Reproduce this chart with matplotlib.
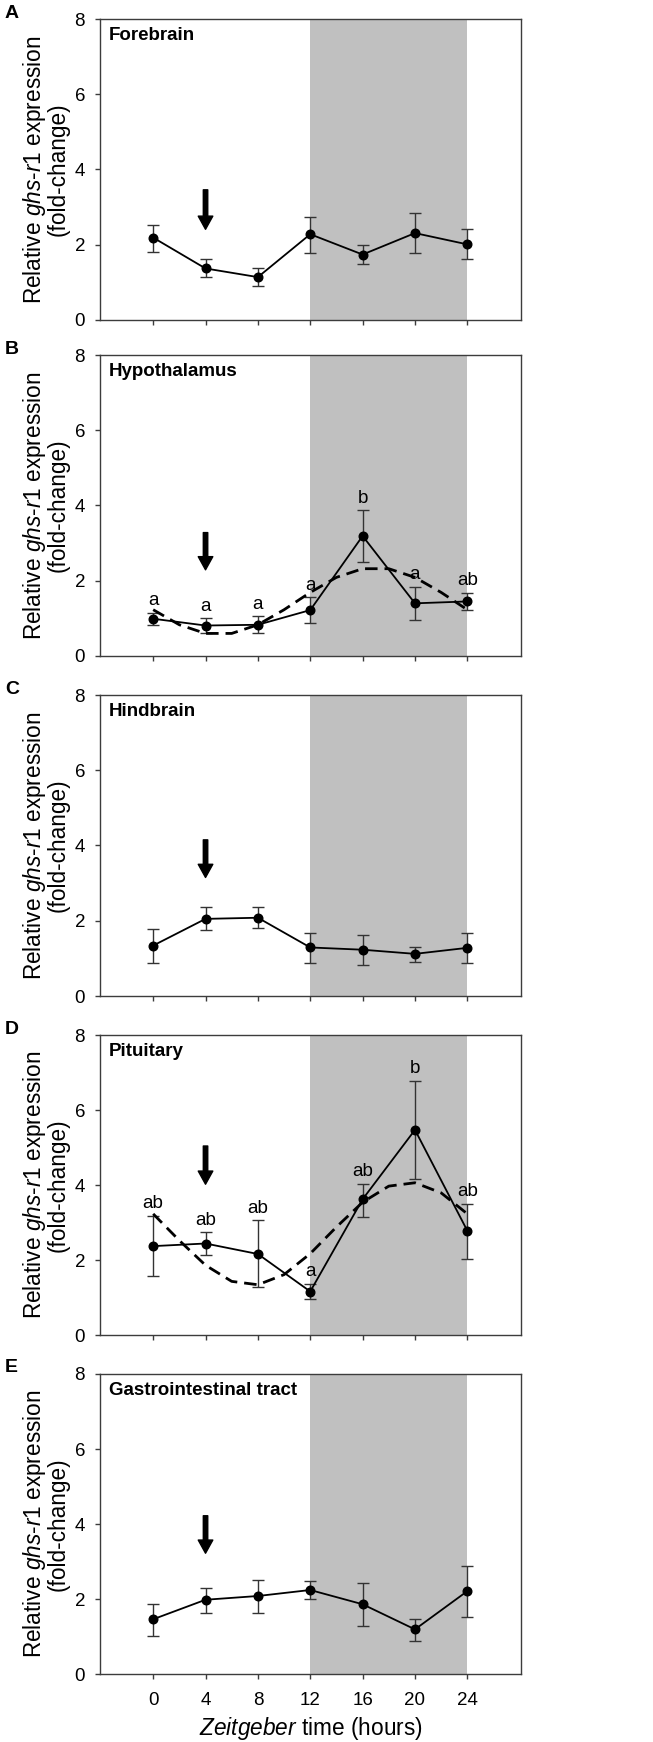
import matplotlib
matplotlib.use("Agg")
import matplotlib.pyplot as plt

plt.rcParams['font.family'] = ['Liberation Sans', 'DejaVu Sans']
plt.rcParams['mathtext.fontset'] = 'custom'
plt.rcParams['mathtext.rm'] = 'Liberation Sans'
plt.rcParams['mathtext.it'] = 'Liberation Sans:italic'
plt.rcParams['mathtext.bf'] = 'Liberation Sans:bold'

# ---------------- data ----------------
zt = [0, 4, 8, 12, 16, 20, 24]
panel_letters = ["A", "B", "C", "D", "E"]
tissues = ["Forebrain", "Hypothalamus", "Hindbrain", "Pituitary", "Gastrointestinal tract"]

fore_mean = [2.19, 1.37, 1.14, 2.28, 1.74, 2.31, 2.01]
fore_hi   = [2.53, 1.62, 1.39, 2.75, 2.00, 2.84, 2.41]
fore_lo   = [1.82, 1.14, 0.90, 1.79, 1.49, 1.77, 1.62]

hypo_mean = [0.99, 0.81, 0.83, 1.22, 3.19, 1.40, 1.45]
hypo_hi   = [1.15, 1.00, 1.05, 1.56, 3.87, 1.83, 1.68]
hypo_lo   = [0.82, 0.62, 0.60, 0.89, 2.50, 0.97, 1.22]
hypo_sig  = ["a", "a", "a", "a", "b", "a", "ab"]

hind_mean = [1.34, 2.05, 2.08, 1.29, 1.23, 1.12, 1.28]
hind_hi   = [1.79, 2.36, 2.36, 1.68, 1.63, 1.31, 1.67]
hind_lo   = [0.88, 1.76, 1.80, 0.89, 0.82, 0.91, 0.89]

pit_mean = [2.37, 2.44, 2.16, 1.16, 3.62, 5.47, 2.78]
pit_hi   = [3.18, 2.74, 3.06, 1.36, 4.04, 6.77, 3.50]
pit_lo   = [1.57, 2.13, 1.29, 0.95, 3.16, 4.16, 2.04]
pit_sig  = ["ab", "ab", "ab", "a", "ab", "b", "ab"]

gi_mean = [1.46, 1.98, 2.08, 2.24, 1.86, 1.19, 2.21]
gi_hi   = [1.88, 2.30, 2.52, 2.48, 2.44, 1.48, 2.89]
gi_lo   = [1.02, 1.64, 1.64, 2.00, 1.28, 0.88, 1.53]

# dashed rhythm curves (every 2 h)
fit_x = [0, 2, 4, 6, 8, 10, 12, 14, 16, 18, 20, 22, 24]
hypo_fit = [1.23, 0.83, 0.60, 0.60, 0.83, 1.23, 1.69, 2.09, 2.32, 2.32, 2.09, 1.69, 1.23]
pit_fit  = [3.23, 2.52, 1.86, 1.43, 1.34, 1.61, 2.17, 2.88, 3.54, 3.97, 4.06, 3.79, 3.23]

# arrow (feeding time) at ZT4: [top, tip] in y units
arrow_x = 4
arrows = [(3.46, 2.41), (3.28, 2.29), (4.15, 3.15), (5.04, 4.02), (4.22, 3.22)]

dark_start, dark_end = 12, 24
yticks = [0, 2, 4, 6, 8]
xticks = [0, 4, 8, 12, 16, 20, 24]

means = [fore_mean, hypo_mean, hind_mean, pit_mean, gi_mean]
his = [fore_hi, hypo_hi, hind_hi, pit_hi, gi_hi]
los = [fore_lo, hypo_lo, hind_lo, pit_lo, gi_lo]
sigs = [None, hypo_sig, None, pit_sig, None]
fits = [None, hypo_fit, None, pit_fit, None]

# ---------------- layout ----------------
W, H = 653, 1742
fig = plt.figure(figsize=(W / 100, H / 100), dpi=100)
ax_left, ax_right = 99.5, 521
tops = [19, 355, 695, 1035, 1374]
bottoms = [320, 656, 996, 1335, 1674]
spine_col = '#3c3c3c'

for i in range(5):
    t, b = tops[i], bottoms[i]
    ax = fig.add_axes([ax_left / W, 1 - b / H, (ax_right - ax_left) / W, (b - t) / H])
    ax.set_xlim(-4.1, 28.1)
    ax.set_ylim(0, 8)
    ax.axvspan(dark_start, dark_end, color='#c0c0c0', zorder=0, lw=0)

    m, hi, lo = means[i], his[i], los[i]
    yerr = [[mm - l for mm, l in zip(m, lo)], [h - mm for mm, h in zip(m, hi)]]
    ax.errorbar(zt, m, yerr=yerr, fmt='none', ecolor='#333333', elinewidth=1.0,
                capsize=4.5, capthick=1.0, zorder=3)
    ax.plot(zt, m, color='black', lw=1.3, marker='o', markersize=6.2, zorder=4)

    if fits[i] is not None:
        ax.plot(fit_x, fits[i], color='black', lw=2.0, ls=(0, (4.5, 2.5)), zorder=5)

    if sigs[i] is not None:
        for x, h, s in zip(zt, hi, sigs[i]):
            ax.text(x, h + 0.1, s, ha='center', va='bottom', fontsize=13.5, zorder=6)

    top_y, tip_y = arrows[i]
    ax.annotate('', xy=(arrow_x, tip_y), xytext=(arrow_x, top_y),
                arrowprops=dict(facecolor='black', edgecolor='black', width=3.2,
                                headwidth=10.5, headlength=9.5, shrink=0),
                zorder=6)

    ax.text(0.022, 0.945, tissues[i], transform=ax.transAxes, fontsize=13.5,
            fontweight='bold', ha='left', va='center')

    ax.set_yticks(yticks)
    ax.set_xticks(xticks)
    ax.tick_params(axis='both', direction='out', length=3.6, width=1.0, color=spine_col,
                   labelsize=13.5)
    ax.tick_params(axis='y', pad=6.8)
    if i < 4:
        ax.set_xticklabels([])
    else:
        ax.tick_params(axis='x', pad=9.5)
    for sp in ax.spines.values():
        sp.set_color(spine_col)
        sp.set_linewidth(1.0)

    ax.set_ylabel('Relative $\\mathit{ghs}$-$\\mathit{r1}$ expression\n(fold-change)',
                  fontsize=16.3, linespacing=0.95)
    ax.yaxis.set_label_coords(-0.07, 0.5)

    fig.text(5 / W, 1 - (t - 6) / H, panel_letters[i], fontsize=14, fontweight='bold',
             ha='left', va='center')

# x-axis title of the bottom panel (italic word + regular words)
fig.text(311 / W, 1 - 1728 / H, r'$\mathit{Zeitgeber}$ time (hours)', fontsize=16.3,
         ha='center', va='center')

fig.savefig('out.png', dpi=100)
